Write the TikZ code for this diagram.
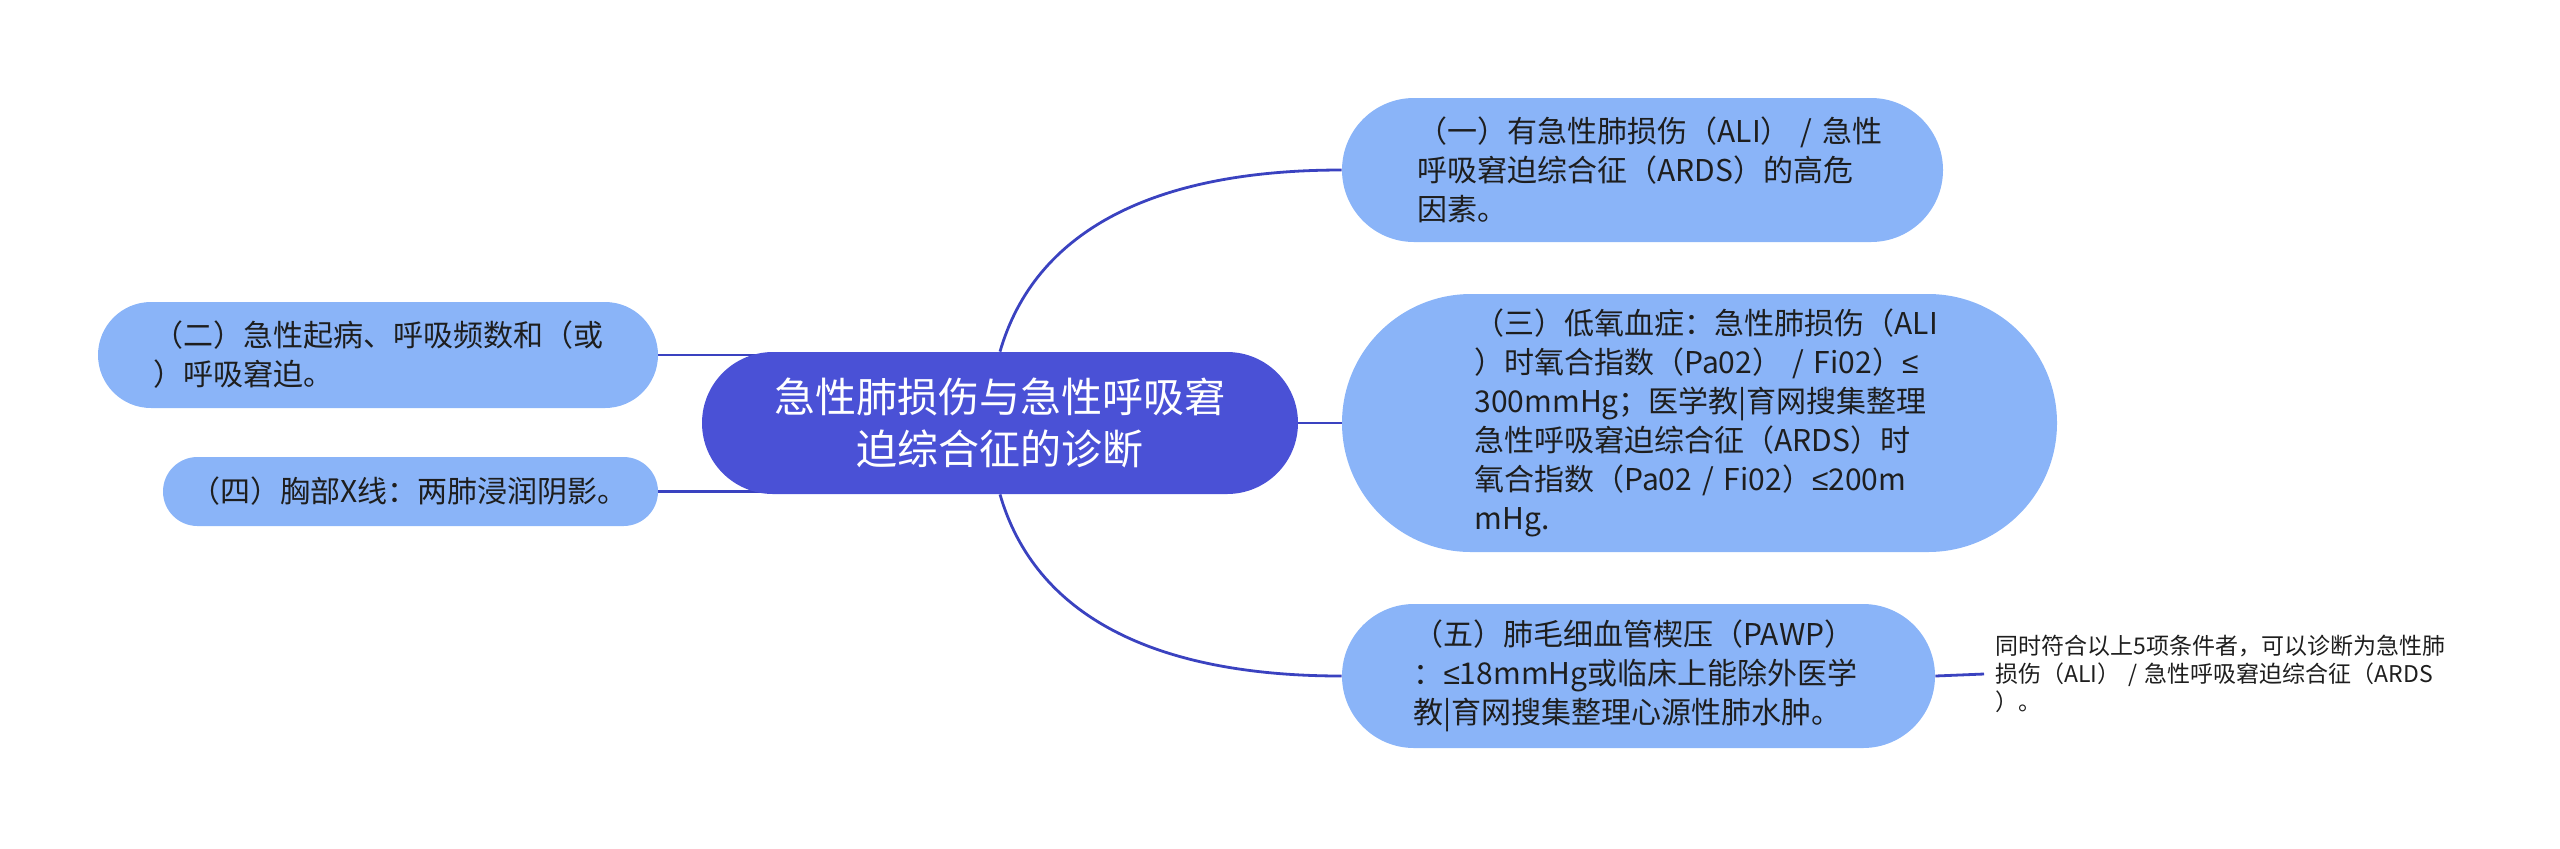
\documentclass[tikz,border=0pt]{standalone}
\usepackage{fontspec}
\setmainfont{Noto Sans CJK SC}
\newfontfamily\leqfont{Liberation Sans}
\newcommand\lessEq{{\leqfont ≤}}
\usepackage{xcolor}
\usetikzlibrary{backgrounds}
\definecolor{centralTopic}{HTML}{4A51D6}
\definecolor{mainTopic}{HTML}{8AB4F8}
\definecolor{branchLine}{HTML}{3A42C0}
\definecolor{topicText}{HTML}{1E1E1E}

\begin{document}
\begin{tikzpicture}[
  x=0.5pt, y=-0.5pt,
  central topic/.style={
    fill=centralTopic,
    text=white,
    font=\fontsize{20.5pt}{26pt}\selectfont,
    align=center,
    minimum width=298pt,
    minimum height=71pt,
    rounded corners=35.5pt
  },
  main topic/.style={
    fill=mainTopic,
    text=topicText,
    font=\fontsize{15pt}{19.5pt}\selectfont,
    text width=225pt,
    align=left,
    rounded corners=#1
  },
  note text/.style={
    text=topicText,
    font=\fontsize{11.5pt}{14pt}\selectfont,
    text width=232pt,
    align=left,
    inner xsep=5.5pt
  },
  branch/.style={
    draw=branchLine,
    line width=1.4pt
  }
]
\useasboundingbox (0,0) rectangle (2560,848);

% central topic
\node[central topic] (diag) at (1000,423)
  {急性肺损伤与急性呼吸窘\\迫综合征的诊断};

% right side
\node[main topic=36pt, minimum width=300.5pt, minimum height=72pt] (risk) at (1642.5,170)
  {（一）有急性肺损伤（ALI）~/~急性\\呼吸窘迫综合征（ARDS）的高危\\因素。};
\node[main topic=64.5pt, minimum width=357.5pt, minimum height=129pt] (hypox) at (1699.5,423)
  {（三）低氧血症：急性肺损伤（ALI\\）时氧合指数（Pa02）~/~Fi02）\lessEq\\300mmHg；医学教|育网搜集整理\\急性呼吸窘迫综合征（ARDS）时\\氧合指数（Pa02~/~Fi02）\lessEq 200m\\mHg.};
\node[main topic=36pt, minimum width=296.5pt, minimum height=72pt] (pawp) at (1638.5,676)
  {（五）肺毛细血管楔压（PAWP）\\：\lessEq 18mmHg或临床上能除外医学\\教|育网搜集整理心源性肺水肿。};
\node[note text, anchor=west] (rule) at (1984,674)
  {同时符合以上5项条件者，可以诊断为急性肺\\损伤（ALI）~/~急性呼吸窘迫综合征（ARDS\\）。};

% left side
\node[main topic=26.5pt, minimum width=280pt, minimum height=53pt] (onset) at (378,355)
  {（二）急性起病、呼吸频数和（或\\）呼吸窘迫。};
\node[main topic=17.25pt, text width=220pt, minimum width=247.5pt, minimum height=34.5pt] (xray) at (410.5,491.5)
  {（四）胸部X线：两肺浸润阴影。};

\begin{pgfonlayer}{background}
  \draw[branch] (diag.north) .. controls +(35,-121) and +(-188,0) .. (risk.west);
  \draw[branch] (diag.east) -- (hypox.west);
  \draw[branch] (diag.south) .. controls +(35,121) and +(-188,0) .. (pawp.west);
  \draw[branch] (pawp.east) -- (rule.west);
  \draw[branch] (onset.east) -- (onset.east -| diag.center);
  \draw[branch] (xray.east) -- (xray.east -| diag.center);
\end{pgfonlayer}
\end{tikzpicture}
\end{document}
